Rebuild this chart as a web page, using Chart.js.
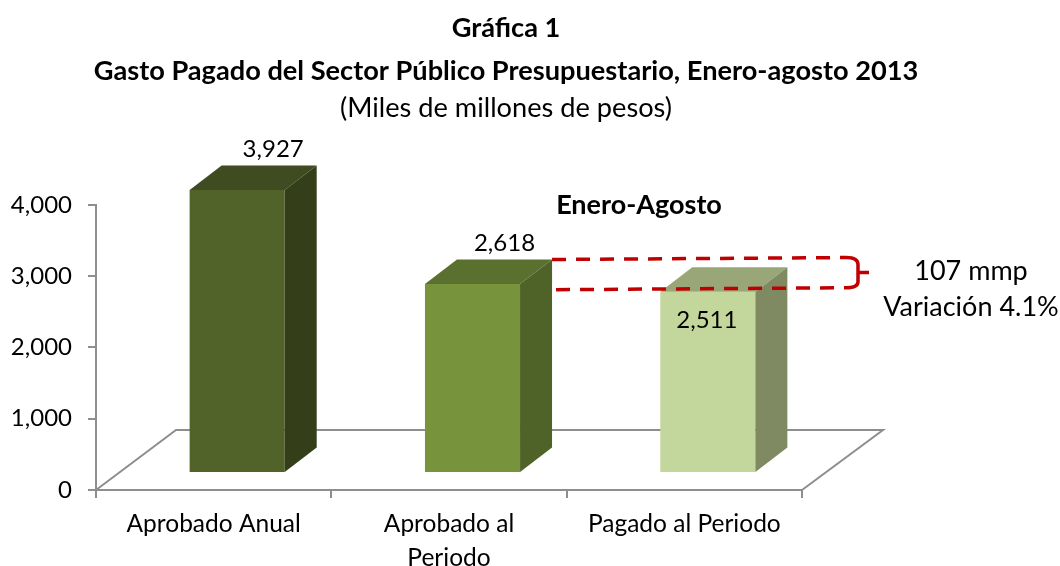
<!DOCTYPE html>
<html><head><meta charset="utf-8">
<style>html,body{margin:0;padding:0;background:#fff}canvas{display:block}</style>
<script src="https://cdn.jsdelivr.net/npm/chart.js@4"></script>
</head><body><canvas id="c" width="1060" height="566"></canvas>
<script>
const categories = ["Aprobado Anual", ["Aprobado al", "Periodo"], "Pagado al Periodo"];
const values = [3927, 2618, 2511];
const valueLabels = ["3,927", "2,618", "2,511"];
const frontColors = ["#52632a", "#77933c", "#c3d69b"];
const topColors = ["#3f4b20", "#5a702e", "#98a678"];
const sideColors = ["#343f19", "#4f6228", "#7f8a63"];
const titleLines = ["Gráfica 1", "Gasto Pagado del Sector Público Presupuestario, Enero-agosto 2013"];
const subtitleLine = "(Miles de millones de pesos)";
const periodLabel = "Enero-Agosto";
const noteLines = ["107 mmp", "Variación 4.1%"];

const FONT = "Lato, 'Open Sans', sans-serif";
const AX = "#8e8e8e";
const floorDX = 80, floorDY = 60;   // depth of the floor
const barDX = 23.5, barDY = 18;     // bars sit inside the floor
const depthX = 32, depthY = 24.5;   // depth of each bar

const bars3d = {
  id: "bars3d",
  beforeDatasetsDraw(chart) {
    const {ctx, scales: {x, y}} = chart;
    const y0 = y.getPixelForValue(0);
    ctx.save();
    ctx.strokeStyle = AX; ctx.lineWidth = 2;
    ctx.beginPath();
    ctx.moveTo(x.left, y0);
    ctx.lineTo(x.left + floorDX, y0 - floorDY);
    ctx.lineTo(x.right + floorDX + 1, y0 - floorDY);
    ctx.lineTo(x.right, y0);
    ctx.stroke();
    ctx.restore();
    ctx.save();
    ctx.translate(barDX, -barDY);
  },
  afterDatasetsDraw(chart) {
    const {ctx} = chart;
    chart.getDatasetMeta(0).data.forEach((b, i) => {
      const l = b.x - b.width / 2, r = b.x + b.width / 2, t = b.y, bt = b.base;
      ctx.fillStyle = topColors[i];
      ctx.beginPath();
      ctx.moveTo(l, t); ctx.lineTo(l + depthX, t - depthY);
      ctx.lineTo(r + depthX, t - depthY); ctx.lineTo(r, t);
      ctx.closePath(); ctx.fill();
      ctx.fillStyle = sideColors[i];
      ctx.beginPath();
      ctx.moveTo(r, t); ctx.lineTo(r + depthX, t - depthY);
      ctx.lineTo(r + depthX, bt - depthY); ctx.lineTo(r, bt);
      ctx.closePath(); ctx.fill();
    });
    ctx.restore();
  },
  afterDraw(chart) {
    const {ctx} = chart;
    const pts = chart.getDatasetMeta(0).data.map(b => ({
      l: b.x - b.width / 2 + barDX, r: b.x + b.width / 2 + barDX, c: b.x + barDX, t: b.y - barDY
    }));
    ctx.save();
    ctx.fillStyle = "#000";
    ctx.textAlign = "center"; ctx.textBaseline = "middle";
    ctx.font = "24px " + FONT;
    ctx.fillText(valueLabels[0], pts[0].c + 36, pts[0].t - 41);
    ctx.fillText(valueLabels[1], pts[1].c + 32, pts[1].t - 41);
    ctx.fillText(valueLabels[2], pts[2].c - 1, pts[2].t + 29);
    ctx.font = "bold 27px " + FONT;
    ctx.fillText(periodLabel, 639, 205);
    ctx.font = "27px " + FONT;
    ctx.fillText(noteLines[0], 971, 271);
    ctx.fillText(noteLines[1], 971, 307);
    // difference guides
    const hi = pts[1].t - depthY, lo = pts[2].t - 2;
    const xb = 858;
    ctx.strokeStyle = "#c00000"; ctx.lineWidth = 3.5;
    ctx.setLineDash([14, 10]);
    ctx.beginPath(); ctx.moveTo(pts[1].r + depthX, hi); ctx.lineTo(xb - 12, hi - 2); ctx.stroke();
    ctx.beginPath(); ctx.moveTo(pts[1].r + depthX + 4, lo); ctx.lineTo(xb - 12, lo - 2); ctx.stroke();
    ctx.setLineDash([]);
    ctx.beginPath();
    ctx.moveTo(xb - 12, hi - 2);
    ctx.quadraticCurveTo(xb, hi - 2, xb, hi + 5);
    ctx.lineTo(xb, lo - 8);
    ctx.quadraticCurveTo(xb, lo - 2, xb - 12, lo - 2);
    ctx.moveTo(xb, hi + 13); ctx.lineTo(xb + 11, hi + 13);
    ctx.stroke();
    ctx.restore();
  }
};

new Chart(document.getElementById("c"), {
  type: "bar",
  data: {
    labels: categories,
    datasets: [{
      data: values,
      backgroundColor: frontColors,
      barPercentage: 1,
      categoryPercentage: 0.404,
      yAxisID: "yBar",
      clip: false
    }]
  },
  plugins: [bars3d],
  options: {
    responsive: false,
    animation: false,
    layout: {padding: {right: 48}},
    plugins: {
      legend: {display: false},
      tooltip: {enabled: false},
      title: {
        display: true, text: titleLines, color: "#000",
        font: {family: FONT, size: 27.2, weight: "bold", lineHeight: 1.6},
        padding: {top: 6, bottom: 0}
      },
      subtitle: {
        display: true, text: subtitleLine, color: "#000",
        font: {family: FONT, size: 27.2, lineHeight: 1.1},
        padding: {top: 0, bottom: 82}
      }
    },
    scales: {
      x: {
        grid: {drawOnChartArea: false, color: AX, lineWidth: 2, tickLength: 8, offset: true},
        border: {color: AX, width: 2},
        ticks: {color: "#000", font: {family: FONT, size: 24.5, lineHeight: 1.35}, padding: 10, maxRotation: 0, autoSkip: false},
        afterFit(s) { s.height = 76; }
      },
      y: {
        min: 0, max: 4000,
        grid: {drawOnChartArea: false, color: AX, lineWidth: 2, tickLength: 8},
        border: {color: AX, width: 2},
        ticks: {
          stepSize: 1000, color: "#000", font: {family: FONT, size: 24}, padding: 16,
          callback: v => v.toLocaleString("en-US")
        },
        afterFit(s) { s.width = 96; }
      },
      yBar: {
        position: "right", min: 0, max: 3970,
        grid: {display: false}, border: {display: false}, ticks: {display: false},
        afterFit(s) { s.width = 210; }
      }
    }
  }
});
</script></body></html>
